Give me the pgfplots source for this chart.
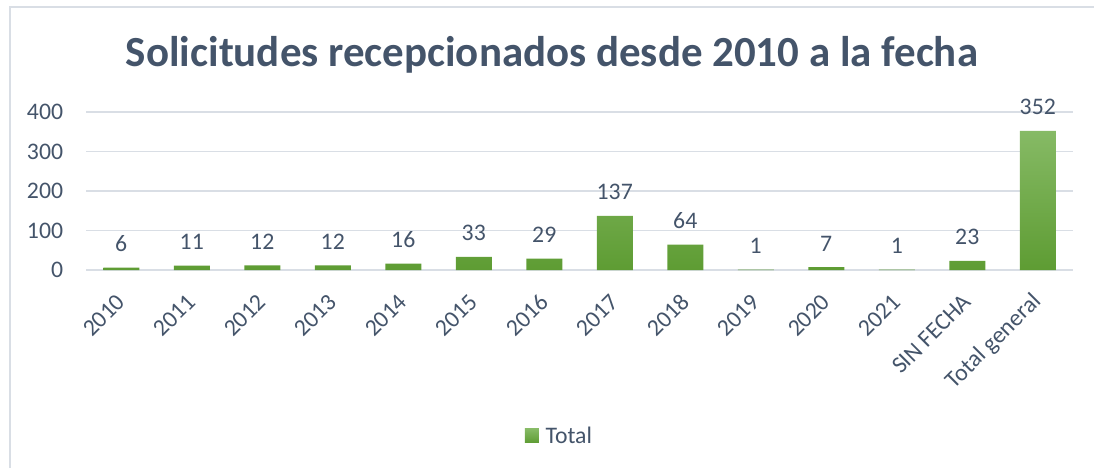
\documentclass[border=0pt]{standalone}
\usepackage{pgfplots}
\pgfplotsset{compat=1.18}
\usepackage{fontspec}
\setmainfont{Carlito}
\definecolor{txt}{HTML}{44546A}
\definecolor{gridc}{HTML}{D9DEE5}
\definecolor{barTop}{HTML}{86BA65}
\definecolor{barBot}{HTML}{5E9C33}
\definecolor{barMid}{HTML}{70AD47}
\begin{document}
\begin{tikzpicture}
\path[use as bounding box] (0pt,0pt) rectangle (820.5pt,351pt);
\draw[gridc, line width=1.1pt] (7.5pt,0pt) -- (7.5pt,345.75pt) -- (820.5pt,345.75pt);
\node[txt, font=\fontsize{32.2}{37}\selectfont\bfseries] at (414pt,309.75pt) {Solicitudes recepcionados desde 2010 a la fecha};
\begin{axis}[
  at={(64.5pt,148.5pt)}, anchor=south west,
  scale only axis, width=740.25pt, height=118.5pt,
  xmin=-0.5, xmax=13.5, ymin=0, ymax=400,
  ytick={0,100,200,300,400},
  xtick={0,...,13},
  xticklabels={2010,2011,2012,2013,2014,2015,2016,2017,2018,2019,2020,2021,SIN FECHA,Total general},
  axis line style={draw=none},
  major tick length=0pt,
  ymajorgrids, grid style={gridc, line width=1.2pt},
  clip=false,
  /pgf/number format/assume math mode=true,
  tick label style={txt, font=\fontsize{17.8}{21}\selectfont},
  y tick label style={anchor=east, inner sep=0pt, xshift=-17pt},
  x tick label style={yshift=-21pt, xshift=0pt, rotate=45, anchor=east, inner sep=0pt},
  legend style={at={(0.48,-1.05)}, anchor=center, draw=none, fill=none, font=\fontsize{17.8}{21}\selectfont, text=txt},
  legend image code/.code={\fill[barMid] (0pt,-5.25pt) rectangle (10.5pt,5.25pt);},
  legend cell align=left,
  legend style={/tikz/every odd column/.append style={xshift=-2pt}},
]
\addplot[ybar, bar width=27pt, draw=none, top color=barTop, bottom color=barBot,
  nodes near coords, every node near coord/.append style={txt, font=\fontsize{17.8}{21}\selectfont, anchor=base, yshift=12pt}]
  coordinates {(0,6) (1,11) (2,12) (3,12) (4,16) (5,33) (6,29) (7,137) (8,64) (9,1) (10,7) (11,1) (12,23) (13,352)};
\addlegendentry{\hspace{3pt}Total}
\end{axis}
\end{tikzpicture}
\end{document}
